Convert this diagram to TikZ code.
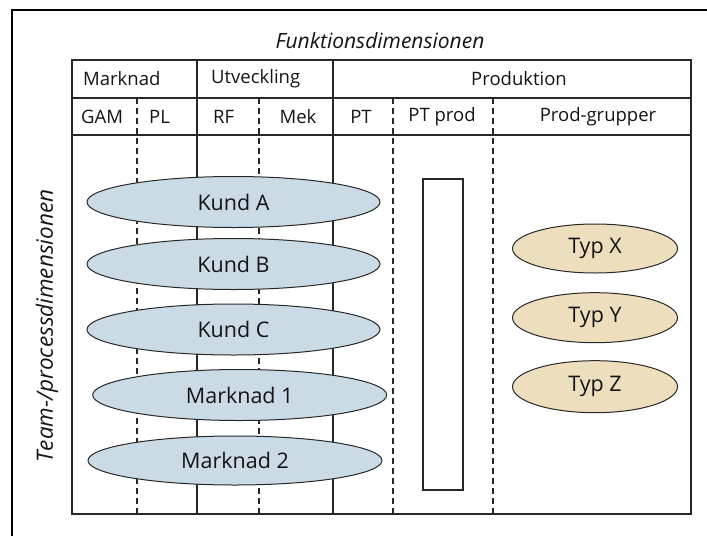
\documentclass[tikz,border=0pt]{standalone}
\usepackage{fontspec}
\setmainfont{Open Sans}
\usetikzlibrary{shapes.geometric}
\definecolor{blueF}{RGB}{203,219,230}
\definecolor{beigeF}{RGB}{237,222,190}
\definecolor{lineC}{RGB}{40,40,40}
\definecolor{txtC}{RGB}{20,20,20}
\begin{document}
\begin{tikzpicture}[x=1pt,y=-1pt,
  frame/.style={line width=2.2pt,draw=black},
  tbl/.style={line width=1.3pt,draw=lineC},
  dsh/.style={line width=1.2pt,draw=lineC,dash pattern=on 6pt off 4pt},
  hdr/.style={inner sep=0pt,text=txtC,font=\fontsize{18.5}{21}\selectfont},
  ttl/.style={inner sep=0pt,text=txtC,font=\fontsize{21}{24}\selectfont\itshape},
  ell/.style={ellipse,draw=lineC,line width=1pt,inner sep=0pt,text=txtC,font=\fontsize{21.5}{24}\selectfont},
  blueell/.style={ell,fill=blueF,minimum width=293pt,minimum height=51pt},
  typell/.style={ell,fill=beigeF,minimum width=165pt,minimum height=50pt},
  bar/.style={draw=lineC,line width=1.2pt,fill=white}
]
\useasboundingbox (0,0) rectangle (707,536);
% outer frame
\draw[frame] (12,536) -- (12,10) -- (707,10);
% title
\node[ttl] (title) at (380,41) {Funktionsdimensionen};
\node[ttl,rotate=90,font=\fontsize{22.5}{24}\selectfont\itshape] (side) at (47,326) {Team-/processdimensionen};
% table grid
\draw[dsh] (137,98) -- (137,514);
\draw[dsh] (259,98) -- (259,514);
\draw[dsh] (393,98) -- (393,514);
\draw[dsh] (493,98) -- (493,514);
\draw[tbl] (197,60) -- (197,514);
\draw[tbl] (333,60) -- (333,514);
\draw[tbl] (72,98) -- (691,98);
\draw[tbl] (72,135) -- (691,135);
\draw[tbl] (72,60) rectangle (691,514);
% header texts
\node[hdr,anchor=west] (hMark) at (83,79) {Marknad};
\node[hdr,anchor=west] (hUtv) at (211,79) {Utveckling};
\node[hdr] (hProd) at (519,79) {Produktion};
\node[hdr,anchor=west] (hGAM) at (81,117) {GAM};
\node[hdr,anchor=west] (hPL) at (149,117) {PL};
\node[hdr,anchor=west] (hRF) at (213,117) {RF};
\node[hdr] (hMek) at (298,117) {Mek};
\node[hdr] (hPT) at (361,117) {PT};
\node[hdr] (hPTp) at (442,117) {PT prod};
\node[hdr] (hPg) at (598,117) {Prod-grupper};
% bar
\draw[bar] (423,179) rectangle (463,490);
% ellipses
\node[blueell] (kA) at (233.5,202) {Kund A};
\node[blueell] (kB) at (233.5,264) {Kund B};
\node[blueell] (kC) at (233.5,329.5) {Kund C};
\node[blueell,minimum width=294pt] (m1) at (239.7,395) {Marknad 1};
\node[blueell,minimum width=294pt,minimum height=49pt] (m2) at (235,460.5) {Marknad 2};
\node[typell,minimum height=49pt] (tX) at (595,248.5) {Typ X};
\node[typell] (tY) at (595,317.7) {Typ Y};
\node[typell,minimum height=52pt] (tZ) at (595,386.7) {Typ Z};
\end{tikzpicture}
\end{document}
